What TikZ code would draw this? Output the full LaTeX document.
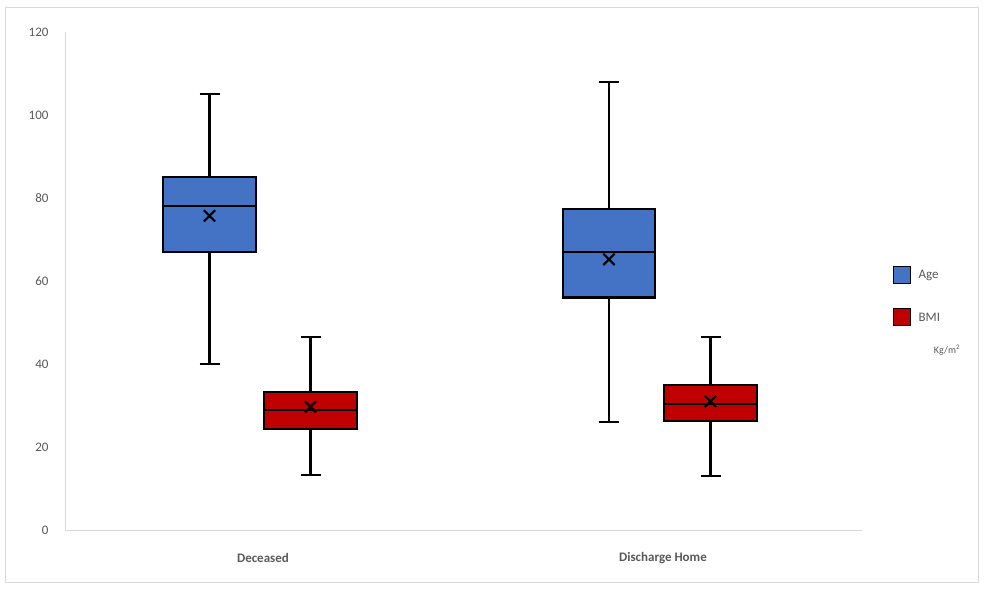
\documentclass[tikz,border=0pt]{standalone}
\usepackage{fontspec}
\setmainfont{Carlito}
\usetikzlibrary{positioning,shapes.misc}
\definecolor{ageblue}{RGB}{68,114,196}
\definecolor{bmired}{RGB}{192,0,0}
\definecolor{axisgray}{RGB}{217,217,217}
\definecolor{labelgray}{RGB}{89,89,89}
% box plot: left, right, low, q1, median, q3, high, mean, colour
\newcommand{\boxwhisk}[9]{%
  \draw[whisk] ({(#1+#2)/2},#3) -- ({(#1+#2)/2},#4)
    ({(#1+#2)/2},#6) -- ({(#1+#2)/2},#7)
    ({(#1+#2)/2-10},#3) -- ({(#1+#2)/2+10},#3)
    ({(#1+#2)/2-10},#7) -- ({(#1+#2)/2+10},#7);
  \draw[whisk,fill=#9] (#1,#4) rectangle (#2,#6);
  \draw[whisk] (#1,#5) -- (#2,#5);
  \node[meanmark] at ({(#1+#2)/2},#8) {};
}
\begin{document}
\begin{tikzpicture}
[x=1pt,y=1pt,
whisk/.style={draw=black,line width=2.2pt},
meanmark/.style={cross out,draw=black,line width=2.2pt,minimum size=9pt,inner sep=0pt},
ticklabel/.style={text=labelgray,font=\fontsize{13}{15}\selectfont,anchor=east},
catlabel/.style={text=labelgray,font=\bfseries\fontsize{13}{15}\selectfont},
legbox/.style={draw=black,line width=1.2pt,minimum size=17pt,inner sep=0pt},
legtext/.style={text=labelgray,font=\fontsize{13}{15}\selectfont,anchor=west}]
\useasboundingbox (0,0) rectangle (986,590);
\draw[axisgray,line width=1pt] (5,8) rectangle (978,582);
\begin{scope}[shift={(0,60)},y=4.15pt]
\draw[axisgray,line width=1pt] (65,0) -- (862,0) (65,0) -- (65,120);
\foreach \v in {0,20,...,120}
  \node[ticklabel] (tick\v) at (52,\v) {\v};
\boxwhisk{163}{256}{40}{67}{78}{85}{105}{75.7}{ageblue}
\boxwhisk{264}{357}{13.3}{24.3}{29}{33.2}{46.5}{29.7}{bmired}
\boxwhisk{563}{655}{26}{56}{67}{77.3}{108}{65.2}{ageblue}
\boxwhisk{664}{757}{13}{26.2}{30.3}{35}{46.5}{31}{bmired}
\end{scope}
\node[catlabel] (deceased) at (263,32) {Deceased};
\node[catlabel] (discharge) at (663,32) {Discharge Home};
\node[legbox,fill=ageblue] (agebox) at (902,315) {};
\node[legtext] (agetext) [right=4pt of agebox] {Age};
\node[legbox,fill=bmired] (bmibox) at (902,273) {};
\node[legtext] (bmitext) [right=4pt of bmibox] {BMI};
\node[text=labelgray,font=\fontsize{10}{12}\selectfont] (unit) at (947,240) {Kg/m\textsuperscript{2}};
\end{tikzpicture}
\end{document}
